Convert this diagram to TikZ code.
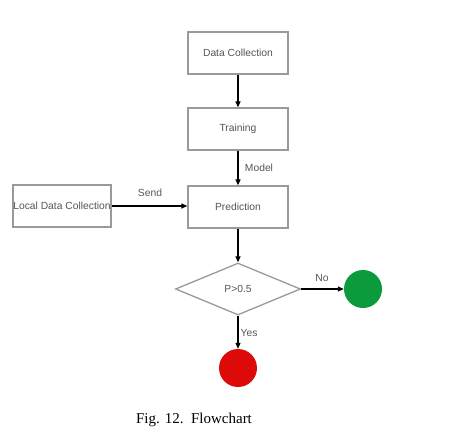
\documentclass[tikz,border=0pt]{standalone}
\usepackage{fontspec}
\setmainfont{Liberation Sans}
\newfontfamily\capfont{Liberation Serif}
\usetikzlibrary{shapes.geometric,arrows.meta}
\definecolor{FCBorder}{HTML}{9A9A9A}
\definecolor{FCText}{HTML}{555555}
\definecolor{FCGreen}{HTML}{0B9A3C}
\definecolor{FCRed}{HTML}{DD0A0A}
\tikzset{
  flowbox/.style={draw=FCBorder,line width=1.3pt,minimum width=100pt,minimum height=42pt,inner sep=0pt,text=FCText,font=\fontsize{10.3}{12}\selectfont},
  flowdec/.style={diamond,draw=FCBorder,line width=1.3pt,aspect=2.4,minimum width=125pt,minimum height=52pt,inner sep=0pt,text=FCText,font=\fontsize{10.3}{12}\selectfont},
  flowend/.style={circle,minimum size=38pt,inner sep=0pt},
  flowarrow/.style={-{Triangle[length=6pt,width=5pt]},line width=1.2pt,black},
  flowlabel/.style={text=FCText,font=\fontsize{10.3}{12}\selectfont}
}

\begin{document}
\begin{tikzpicture}[x=1pt,y=-1pt]
\path[use as bounding box,fill=white] (0,0) rectangle (453,440);
\node[flowbox] (datacoll) at (238,53) {Data Collection};
\node[flowbox] (training) at (238,129) {Training};
\node[flowbox] (prediction) at (238,207) {Prediction};
\node[flowbox,minimum width=98pt] (localcoll) at (62,206) {Local Data Collection};
\node[flowdec] (check) at (238,289) {P>0.5};
\node[flowend,fill=FCGreen] (endno) at (363,289) {};
\node[flowend,fill=FCRed] (endyes) at (238,368) {};
\draw[flowarrow] (datacoll) -- (training);
\draw[flowarrow] (training) -- (prediction);
\draw[flowarrow] (localcoll.east) -- (localcoll.east -| prediction.west);
\draw[flowarrow] (prediction) -- (check);
\draw[flowarrow] (check.east) -- (endno.west);
\draw[flowarrow] (check.south) -- (endyes.north);
\node[flowlabel] (lblmodel) at (259,168) {Model};
\node[flowlabel] (lblsend) at (150,193) {Send};
\node[flowlabel] (lblno) at (322,278) {No};
\node[flowlabel] (lblyes) at (249,333) {Yes};
\node[font=\capfont\fontsize{15}{18}\selectfont] (caption) at (194,420) {Fig. 12.\ \ Flowchart};
\end{tikzpicture}
\end{document}
